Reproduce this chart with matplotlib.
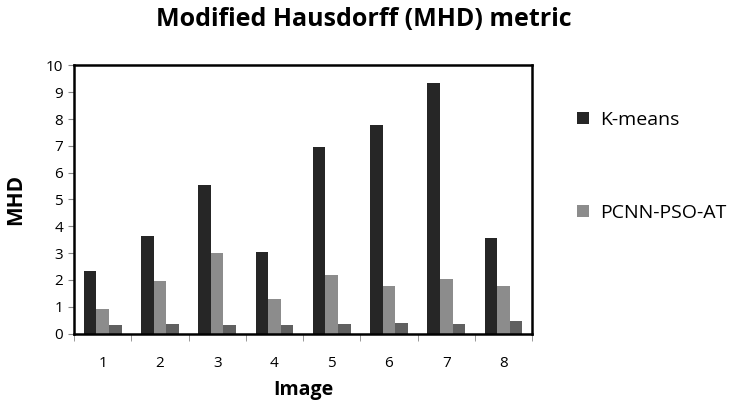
import matplotlib.pyplot as plt
import numpy as np

images = ["1", "2", "3", "4", "5", "6", "7", "8"]
kmeans = [2.32, 3.65, 5.55, 3.05, 6.97, 7.78, 9.35, 3.58]
pcnn = [0.90, 1.95, 3.00, 1.27, 2.20, 1.76, 2.02, 1.76]
third = [0.30, 0.37, 0.33, 0.30, 0.37, 0.41, 0.37, 0.48]

plt.rcParams['font.family'] = ['Open Sans', 'DejaVu Sans']

fig = plt.figure(figsize=(7.33, 4.04), dpi=100)
ax = fig.add_axes([0.101, 0.1745, 0.625, 0.6634])

x = np.arange(len(images))
w = 0.22
b1 = ax.bar(x - w, kmeans, w, color='#262626', label='K-means')
b2 = ax.bar(x, pcnn, w, color='#8c8c8c', label='PCNN-PSO-AT')
b3 = ax.bar(x + w, third, w, color='#606060')

ax.set_xlim(-0.5, len(images) - 0.5)
ax.set_ylim(0, 10)
ax.set_yticks(range(0, 11))
ax.set_xticks(x)
ax.set_xticklabels(images)
ax.set_xticks(np.arange(-0.5, len(images)), minor=True)
ax.tick_params(axis='x', which='major', length=0, pad=16, labelsize=11)
ax.tick_params(axis='x', which='minor', length=5, color='#888888', direction='out')
ax.tick_params(axis='y', length=4, color='#888888', direction='out', labelsize=11, pad=4)

for s in ax.spines.values():
    s.set_linewidth(1.8)
    s.set_color('black')

ax.set_xlabel("Image", fontsize=14, fontweight='bold', labelpad=7)
ax.set_ylabel("MHD", fontsize=15, fontweight='bold', labelpad=14)
fig.text(0.497, 0.952, "Modified Hausdorff (MHD) metric", fontsize=18,
         fontweight='bold', ha='center', va='center')

ax.legend(handles=[b1, b2], loc='upper left', bbox_to_anchor=(1.06, 0.895),
          frameon=False, fontsize=14, labelspacing=3.85,
          handlelength=0.6, handleheight=0.6, handletextpad=0.6)

plt.savefig("out.png", dpi=100)
